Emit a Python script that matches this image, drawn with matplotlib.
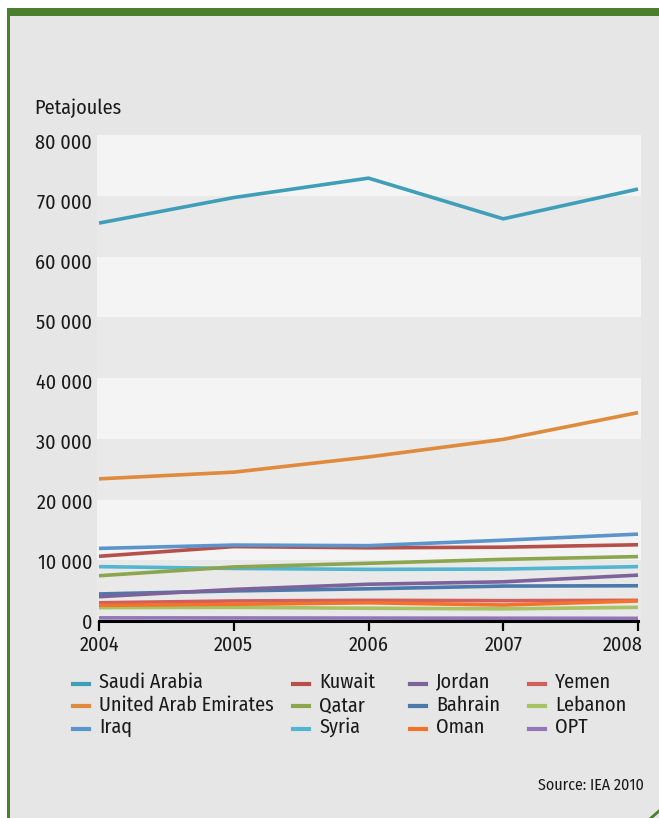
import matplotlib
matplotlib.use("Agg")
import matplotlib.pyplot as plt
import matplotlib.transforms as mtransforms
from matplotlib.lines import Line2D
from matplotlib.ticker import FuncFormatter

plt.rcParams['font.family'] = ['Fira Sans Condensed', 'Asap Condensed', 'DejaVu Sans']

years = [2004, 2005, 2006, 2007, 2008]
yticks = [0, 10000, 20000, 30000, 40000, 50000, 60000, 70000, 80000]
countries = ["Saudi Arabia", "United Arab Emirates", "Iraq",
             "Kuwait", "Qatar", "Syria",
             "Jordan", "Bahrain", "Oman",
             "Yemen", "Lebanon", "OPT"]
saudi = [65500, 69700, 72900, 66200, 71100]
uae = [23400, 24500, 27000, 29900, 34300]
iraq = [11950, 12500, 12400, 13300, 14300]
kuwait = [10650, 12250, 12050, 12150, 12550]
qatar = [7450, 8900, 9500, 10150, 10600]
syria = [8950, 8650, 8500, 8550, 8950]
jordan = [4000, 5200, 6050, 6450, 7550]
bahrain = [4450, 4950, 5300, 5750, 5800]
oman = [2580, 2750, 3000, 2630, 3300]
yemen = [3000, 3300, 3400, 3350, 3400]
lebanon = [2200, 2250, 2100, 2000, 2250]
opt = [520, 500, 480, 460, 440]
series = {"Saudi Arabia": saudi, "United Arab Emirates": uae, "Iraq": iraq,
          "Kuwait": kuwait, "Qatar": qatar, "Syria": syria,
          "Jordan": jordan, "Bahrain": bahrain, "Oman": oman,
          "Yemen": yemen, "Lebanon": lebanon, "OPT": opt}
colors = {"Saudi Arabia": "#3f9fb8", "United Arab Emirates": "#df8a3d", "Iraq": "#5b95cb",
          "Kuwait": "#b6504b", "Qatar": "#8ca64f", "Syria": "#53b6d0",
          "Jordan": "#7c6399", "Bahrain": "#4a7aab", "Oman": "#f4722a",
          "Yemen": "#cf605d", "Lebanon": "#a6c463", "OPT": "#9477b8"}
draw_order = ["OPT", "Lebanon", "Yemen", "Oman", "Bahrain", "Jordan", "Syria",
              "Qatar", "Kuwait", "Iraq", "United Arab Emirates", "Saudi Arabia"]

W, H = 659, 818
TXT = "#1a1a1a"
FS = 14.5
fig = plt.figure(figsize=(W / 100, H / 100), dpi=100)
fig.patch.set_facecolor("#e6e6e6")

# frame decorations
fig.patches.append(plt.Rectangle((0, 1 - 8 / H), 1, 8 / H, transform=fig.transFigure,
                                 facecolor="white", edgecolor="none"))
fig.patches.append(plt.Rectangle((0, 0), 7 / W, 1, transform=fig.transFigure,
                                 facecolor="white", edgecolor="none"))
fig.patches.append(plt.Rectangle((7 / W, 1 - 16 / H), 1, 8 / H, transform=fig.transFigure,
                                 facecolor="#4a7f2e", edgecolor="none"))
fig.patches.append(plt.Rectangle((7 / W, 0), 2.5 / W, 1 - 8 / H, transform=fig.transFigure,
                                 facecolor="#4a7f2e", edgecolor="none"))
fig.lines.append(Line2D([651 / W, 1.0], [0, 7 / H], transform=fig.transFigure,
                        color="#4a7f2e", lw=2))

# axes: bands span px 97..641, 2004 at 99, 2008 at 638
ax = fig.add_axes([97 / W, 1 - 621 / H, 544 / W, 486 / H])
ax.set_facecolor("#e9e9e9")
for lo in yticks[1:-1:2]:
    ax.axhspan(lo, lo + 10000, color="#f4f4f4", zorder=0, lw=0)

for name in draw_order:
    ax.plot(years, series[name], color=colors[name], lw=2.6, zorder=3,
            solid_capstyle="butt")

pxyr = 539 / 4
ax.set_xlim(2004 - 2 / pxyr, 2008 + 3 / pxyr)
ax.set_ylim(0, 80000)
ax.set_yticks(yticks)
ax.yaxis.set_major_formatter(FuncFormatter(lambda v, p: f"{int(v):,}".replace(",", " ")))
ax.set_xticks(years)
for s in ["top", "right", "left"]:
    ax.spines[s].set_visible(False)
ax.spines["bottom"].set_linewidth(2.2)
ax.spines["bottom"].set_bounds(2004, 2008)
ax.spines["bottom"].set_zorder(5)
ax.tick_params(axis="y", length=0, pad=3.5, labelsize=FS, labelcolor=TXT)
ax.tick_params(axis="x", length=7, width=1.6, pad=3.5, labelsize=FS, labelcolor=TXT)

# small label offsets as in the reference
for v, lab in zip(yticks, ax.get_yticklabels()):
    off = mtransforms.ScaledTranslation(0, -(v / 80000) * 6.5 / 100, fig.dpi_scale_trans)
    lab.set_transform(lab.get_transform() + off)
xl = ax.get_xticklabels()
xl[-1].set_transform(xl[-1].get_transform() +
                     mtransforms.ScaledTranslation(-15 / 100, 0, fig.dpi_scale_trans))

fig.text(34 / W, 1 - 114 / H, "Petajoules", fontsize=FS, va="baseline", ha="left", color=TXT)

# legend: 4 columns x 3 rows
col_handle_x = [73, 293, 410, 529]
row_handle_y = [683.5, 705.5, 729]
row_base_y = [688.5, 711, 733]
for c in range(4):
    for r in range(3):
        name = countries[c * 3 + r]
        x0 = col_handle_x[c]
        fig.lines.append(Line2D([x0 / W, (x0 + 16) / W],
                                [1 - row_handle_y[r] / H] * 2,
                                transform=fig.transFigure, color=colors[name], lw=3))
        fig.text((x0 + 26) / W, 1 - row_base_y[r] / H, name, fontsize=FS,
                 va="baseline", ha="left", color=TXT)

fig.text(644 / W, 1 - 790 / H, "Source: IEA 2010", fontsize=11.5, ha="right",
         va="baseline", color=TXT)

fig.savefig("out.png", dpi=100, facecolor=fig.get_facecolor())
